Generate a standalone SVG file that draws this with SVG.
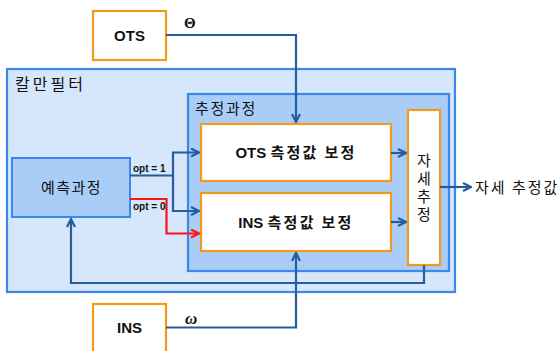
<svg xmlns="http://www.w3.org/2000/svg" width="559" height="351" viewBox="0 0 559 351">
<defs>
<style>
.ext{fill:#ffffff;stroke:#f39a1e;stroke-width:2.2}
.kal{fill:#d6e7fc;stroke:#3b88e9;stroke-width:2.2}
.est{fill:#aacdf7;stroke:#3b88e9;stroke-width:2.2}
.pred{fill:#aacdf7;stroke:#3b88e9;stroke-width:2}
.t{font-family:"Liberation Sans","Noto Sans CJK KR",sans-serif;fill:#111111}
.k{font-family:"Noto Sans CJK KR","Liberation Sans",sans-serif;fill:#111111}
.c{fill:none;stroke:#275d9c;stroke-width:2.2;stroke-linejoin:miter}
.r{fill:none;stroke:#ff1414;stroke-width:2.2}
</style>
<marker id="ab" viewBox="0 0 10 10" refX="9" refY="5" markerWidth="10" markerHeight="10" markerUnits="userSpaceOnUse" orient="auto">
<path d="M1,1 L9,5 L1,9" fill="none" stroke="#275d9c" stroke-width="2.2"/>
</marker>
<marker id="ar" viewBox="0 0 10 10" refX="9" refY="5" markerWidth="10" markerHeight="10" markerUnits="userSpaceOnUse" orient="auto">
<path d="M1,1 L9,5 L1,9" fill="none" stroke="#ff1414" stroke-width="2.2"/>
</marker>
</defs>
<rect width="559" height="351" fill="#ffffff"/>
<g id="kalman">
<rect class="kal" x="7" y="69" width="448" height="223"/>
<text class="k" x="15" y="90" font-size="16" letter-spacing="3">칼만필터</text>
</g>
<g id="estimation">
<rect class="est" x="188" y="94" width="261" height="177"/>
<text class="k" x="195" y="114" font-size="15" letter-spacing="1.7">추정과정</text>
</g>
<g id="ots">
<rect class="ext" x="93" y="11" width="73" height="49"/>
<text class="t" x="129.5" y="41" font-size="15" font-weight="bold" text-anchor="middle">OTS</text>
</g>
<g id="ins">
<rect class="ext" x="93" y="304" width="73" height="60"/>
<text class="t" x="129.5" y="333" font-size="15" font-weight="bold" text-anchor="middle">INS</text>
</g>
<g id="prediction">
<rect class="pred" x="12" y="158" width="118" height="59"/>
<text class="k" x="71.5" y="193" font-size="15" letter-spacing="1.5" text-anchor="middle">예측과정</text>
</g>
<g id="ots-correct">
<rect class="ext" x="201" y="124" width="190" height="57"/>
<text x="296" y="158" font-size="15" text-anchor="middle"><tspan class="t" font-weight="bold">OTS </tspan><tspan class="k" font-weight="bold" letter-spacing="2.3">측정값 보정</tspan></text>
</g>
<g id="ins-correct">
<rect class="ext" x="201" y="193" width="190" height="58"/>
<text x="296" y="228" font-size="15" text-anchor="middle"><tspan class="t" font-weight="bold">INS </tspan><tspan class="k" font-weight="bold" letter-spacing="2.3">측정값 보정</tspan></text>
</g>
<g id="attitude">
<rect class="ext" x="408" y="110" width="32" height="155"/>
<text class="k" x="424" y="189" font-size="15" letter-spacing="3.3" text-anchor="middle" writing-mode="vertical-rl" text-orientation="upright">자세추정</text>
</g>
<g id="connectors">
<polyline class="c" points="166,35 296,35 296,122" marker-end="url(#ab)"/>
<polyline class="c" points="166,327.5 296,327.5 296,253" marker-end="url(#ab)"/>
<polyline class="c" points="130,175.5 173,175.5 173,152.5 199,152.5" marker-end="url(#ab)"/>
<polyline class="c" points="173,175.5 173,211 199,211" marker-end="url(#ab)"/>
<polyline class="r" points="130,199 166.5,199 166.5,233.5 199,233.5" marker-end="url(#ar)"/>
<line class="c" x1="391" y1="153" x2="406" y2="153" marker-end="url(#ab)"/>
<line class="c" x1="391" y1="222" x2="406" y2="222" marker-end="url(#ab)"/>
<polyline class="c" points="424,265 424,283 71,283 71,219" marker-end="url(#ab)"/>
<line class="c" x1="440" y1="187" x2="471" y2="187" marker-end="url(#ab)"/>
<text class="t" x="133" y="172" font-size="10" font-weight="bold">opt = 1</text>
<text class="t" x="133" y="209.5" font-size="10" font-weight="bold">opt = 0</text>
<text x="184" y="28" font-family="Liberation Serif, serif" font-size="15" font-weight="bold" fill="#111">Θ</text>
<text x="185" y="324" font-family="Liberation Serif, serif" font-size="17" font-style="italic" font-weight="bold" fill="#111">ω</text>
<text class="k" x="475" y="193" font-size="15" letter-spacing="2">자세 추정값</text>
</g>
</svg>
